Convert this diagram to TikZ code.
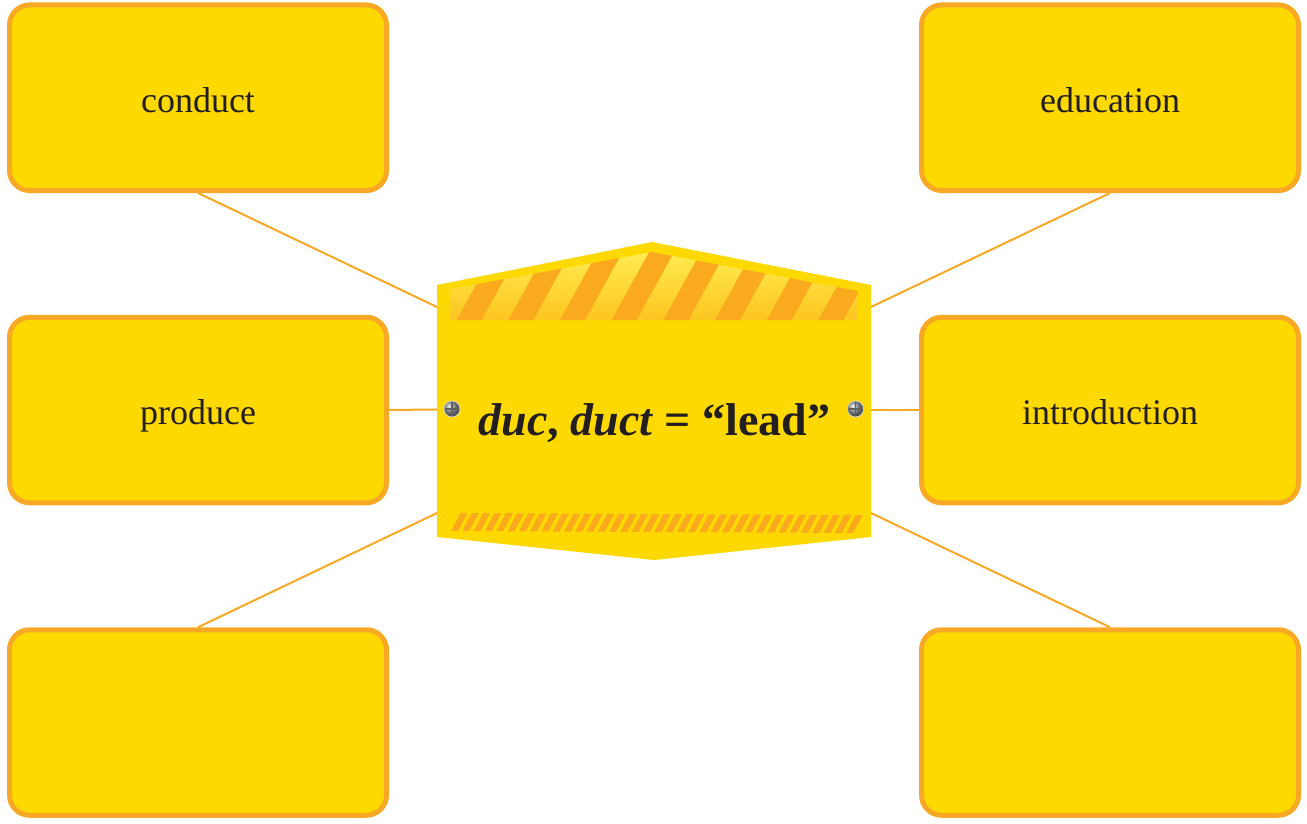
\documentclass[tikz,border=0pt]{standalone}
\usepackage{fontspec}
\setmainfont{Liberation Serif}
\definecolor{signyellow}{RGB}{254,217,0}
\definecolor{rimorange}{RGB}{247,168,36}
\definecolor{stripeorange}{RGB}{249,171,29}
\definecolor{stripelight}{RGB}{255,240,85}
\definecolor{stripedeep}{RGB}{253,196,30}
\definecolor{ink}{RGB}{35,31,32}
\definecolor{steel}{RGB}{150,152,156}
\tikzset{
  wordbox/.style={draw=rimorange, fill=signyellow, line width=5pt,
    rounded corners=20pt, minimum width=377pt, minimum height=185.5pt,
    inner sep=0pt, text=ink, text height=29pt, text depth=0pt,
    font=\fontsize{36}{40}\selectfont},
  link/.style={draw=rimorange, line width=2pt},
  screwhead/.style={circle, inner sep=0pt, outer sep=0pt, minimum size=16pt,
    shading=ball, ball color=steel, draw=gray!35, line width=0.8pt},
  screwslot/.style={draw=black!62, line width=1.8pt},
  title/.style={text=ink, inner sep=0pt, font=\fontsize{46}{50}\selectfont\bfseries}
}
\begin{document}
\begin{tikzpicture}[x=1pt,y=-1pt]
\useasboundingbox (0,0) rectangle (1307,824);

% word boxes
\node[wordbox] (conduct)   at (198,97.75) {conduct};
\node[wordbox] (produce)   at (198,410)   {produce};
\node[wordbox] (blankL)    at (198,722.5) {};
\node[wordbox] (education) at (1110,97.75){education};
\node[wordbox] (intro)     at (1110,410)  {introduction};
\node[wordbox] (blankR)    at (1110,722.5){};

% points on the sign edges where the links meet it
\coordinate (signL1) at (437,307);
\coordinate (signL2) at (437,409.5);
\coordinate (signL3) at (437,513);
\coordinate (signR1) at (871,307);
\coordinate (signR2) at (871,410);
\coordinate (signR3) at (871,513);

% links from each word box to the sign
\draw[link] (conduct.south) -- (signL1);
\draw[link] (produce.east) -- (signL2);
\draw[link] (blankL.north) -- (signL3);
\draw[link] (education.south) -- (signR1);
\draw[link] (intro.west) -- (signR2);
\draw[link] (blankR.north) -- (signR3);

% sign plate
\fill[signyellow] (437,285) -- (652,242) -- (871,285) -- (871,537)
  -- (654,560) -- (437,537) -- cycle;

% hazard band at the top
\begin{scope}
  \clip (450,320) -- (450,289) -- (652,252) -- (858,291) -- (858,320) -- cycle;
  \shade[top color=stripelight, bottom color=stripedeep] (440,245) rectangle (870,322);
  \foreach \i in {-2,...,9} {
    \fill[stripeorange] ({456.7+51.67*\i},320) -- ++(25,0) -- ++(38.5,-70)
      -- ++(-25,0) -- cycle;
  }
\end{scope}

% fine hazard stripes at the bottom
\foreach \i in {0,...,35} {
  \fill[stripeorange] ({451+11.29*\i},{531+2*\i/35}) -- ++(7,0) -- ++(9.5,-18)
    -- ++(-7,0) -- cycle;
}

% screws
\node[screwhead] (screwL) at (452,409) {};
\node[screwhead] (screwR) at (855.5,409) {};
\foreach \s in {screwL,screwR} {
  \draw[screwslot] ([yshift=-1.2pt]\s.north) -- ([yshift=1.2pt]\s.south);
  \draw[screwslot] ([xshift=1.2pt]\s.west) -- ([xshift=-1.2pt]\s.east);
}

% title
\node[title, anchor=base] (title) at (654.5,435)
  {\textit{duc}, \textit{duct} = “lead”};
\end{tikzpicture}
\end{document}
